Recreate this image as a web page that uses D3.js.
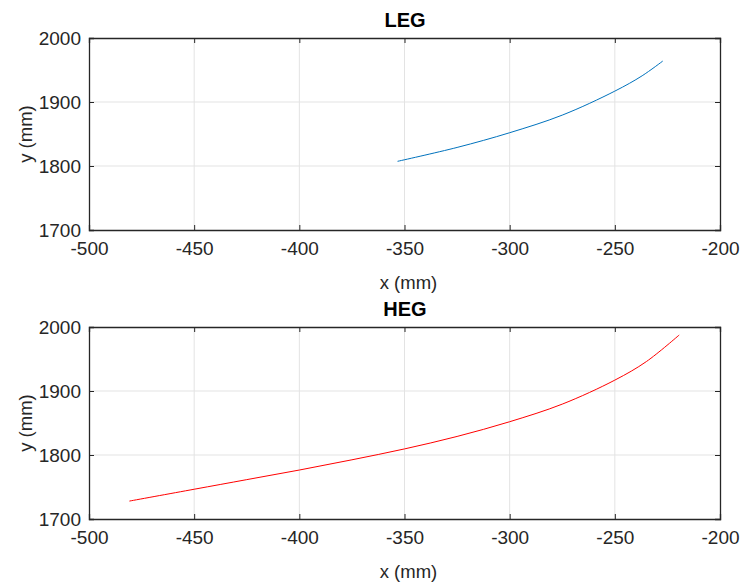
<!DOCTYPE html>
<html>
<head>
<meta charset="utf-8">
<script src="https://cdn.jsdelivr.net/npm/d3@7"></script>
<style>
  body { margin: 0; background: #fff; }
  svg { display: block; font-family: "Liberation Sans", Arial, Helvetica, sans-serif; }
</style>
</head>
<body>
<svg id="chart" width="741" height="584"></svg>
<script>
// values, x (mm) / y (mm)
const legX = [-353.3, -325, -300, -275, -250, -237, -227.2];
const legY = [1807.3, 1829, 1852, 1879.5, 1917, 1941, 1964];
const hegX = [-480.8, -450, -425, -400, -375, -350, -325, -300, -275, -250, -235, -219.4];
const hegY = [1728, 1746.5, 1761.5, 1776.5, 1792.5, 1809.5, 1829, 1852, 1879.5, 1917, 1946, 1987.5];
const xTicks = [-500, -450, -400, -350, -300, -250, -200];
const yTicks = [1700, 1800, 1900, 2000];

const panels = [
    { title: "LEG", xs: legX, ys: legY, color: "#0072BD", top: 38 },
    { title: "HEG", xs: hegX, ys: hegY, color: "#FF0000", top: 327 }
];

const left = 89, right = 720, plotH = 192;
const axisColor = "#262626";
const svg = d3.select("#chart");

panels.forEach(p => {
    const x = d3.scaleLinear().domain([-500, -200]).range([left, right]);
    const y = d3.scaleLinear().domain([1700, 2000]).range([p.top + plotH, p.top]);
    const g = svg.append("g");

    // grid
    g.append("g").selectAll("line").data(xTicks.slice(1, -1)).join("line")
        .attr("x1", d => x(d)).attr("x2", d => x(d))
        .attr("y1", p.top).attr("y2", p.top + plotH)
        .attr("stroke", "#e3e3e3").attr("stroke-width", 1);
    g.append("g").selectAll("line").data(yTicks.slice(1, -1)).join("line")
        .attr("x1", left).attr("x2", right)
        .attr("y1", d => y(d)).attr("y2", d => y(d))
        .attr("stroke", "#e3e3e3").attr("stroke-width", 1);

    // data line
    const pts = p.xs.map((v, i) => [v, p.ys[i]]);
    g.append("path")
        .datum(pts)
        .attr("fill", "none")
        .attr("stroke", p.color)
        .attr("stroke-width", 1)
        .attr("d", d3.line().x(d => x(d[0])).y(d => y(d[1])).curve(d3.curveCatmullRom.alpha(0.5)));

    // axes (ticks inward, box on)
    const bottomAx = d3.axisBottom(x).tickValues(xTicks).tickSize(-5).tickPadding(12).tickFormat(d => String(d));
    const topAx = d3.axisTop(x).tickValues(xTicks).tickSize(-5).tickFormat("");
    const leftAx = d3.axisLeft(y).tickValues(yTicks).tickSize(-5).tickPadding(8).tickFormat(d => String(d));
    const rightAx = d3.axisRight(y).tickValues(yTicks).tickSize(-5).tickFormat("");

    const gb = g.append("g").attr("transform", `translate(0,${p.top + plotH})`).call(bottomAx);
    const gt = g.append("g").attr("transform", `translate(0,${p.top})`).call(topAx);
    const gl = g.append("g").attr("transform", `translate(${left},0)`).call(leftAx);
    const gr = g.append("g").attr("transform", `translate(${right},0)`).call(rightAx);

    [gb, gt, gl, gr].forEach(a => {
        a.select(".domain").attr("stroke", axisColor).attr("stroke-width", 1.3);
        a.selectAll(".tick line").attr("stroke", axisColor).attr("stroke-width", 1);
        a.selectAll(".tick text").attr("fill", axisColor).style("font-size", "19px");
    });

    // title and labels
    g.append("text").attr("x", (left + right) / 2 + 0.5).attr("y", p.top - 11)
        .attr("text-anchor", "middle").attr("fill", "#000")
        .style("font-size", "20px").style("font-weight", "bold").text(p.title);
    g.append("text").attr("x", (left + right) / 2 + 4).attr("y", p.top + plotH + 59)
        .attr("text-anchor", "middle").attr("fill", axisColor)
        .style("font-size", "18.5px").text("x (mm)");
    g.append("text")
        .attr("transform", `translate(32,${p.top + plotH / 2}) rotate(-90)`)
        .attr("text-anchor", "middle").attr("fill", axisColor)
        .style("font-size", "18.5px").text("y (mm)");
});
</script>
</body>
</html>
